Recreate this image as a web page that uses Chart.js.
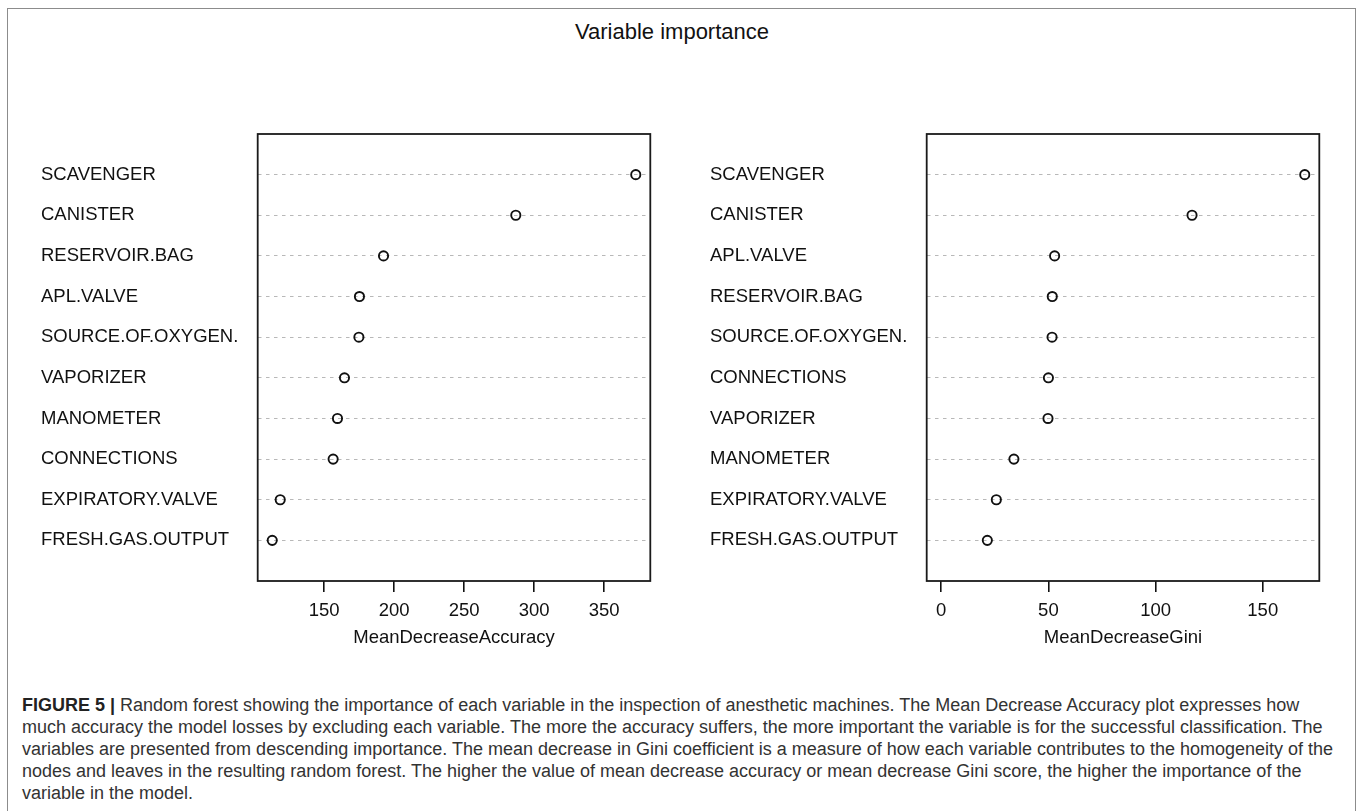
<!DOCTYPE html>
<html>
<head>
<meta charset="utf-8">
<script src="https://cdn.jsdelivr.net/npm/chart.js@4"></script>
<style>
  body { margin: 0; background: #fff; font-family: "Liberation Sans", Arial, sans-serif; }
  #page { position: relative; width: 1360px; height: 811px; overflow: hidden; }
  #frame { position: absolute; left: 7px; top: 8px; width: 1349px; height: 820px;
           border: 1.5px solid #8c8c8c; box-sizing: border-box; }
  #title { position: absolute; left: 472px; width: 400px; top: 19px; text-align: center;
           font-size: 22px; color: #111; }
  canvas { position: absolute; }
  #accChart { left: 31px; top: 100px; }
  #giniChart { left: 700px; top: 100px; }
  #caption { position: absolute; left: 22px; top: 694px; font-size: 18px; line-height: 22px;
             color: #333; white-space: nowrap; }
  #caption b { color: #222; }
</style>
</head>
<body>
<div id="page">
  <div id="frame"></div>
  <div id="title">Variable importance</div>
  <canvas id="accChart" width="640" height="551"></canvas>
  <canvas id="giniChart" width="640" height="551"></canvas>
  <div id="caption">
    <b>FIGURE 5 |</b> Random forest showing the importance of each variable in the inspection of anesthetic machines. The Mean Decrease Accuracy plot expresses how<br>
    much accuracy the model losses by excluding each variable. The more the accuracy suffers, the more important the variable is for the successful classification. The<br>
    variables are presented from descending importance. The mean decrease in Gini coefficient is a measure of how each variable contributes to the homogeneity of the<br>
    nodes and leaves in the resulting random forest. The higher the value of mean decrease accuracy or mean decrease Gini score, the higher the importance of the<br>
    variable in the model.
  </div>
</div>
<script>
// rows top to bottom
var accLabels = ['SCAVENGER', 'CANISTER', 'RESERVOIR.BAG', 'APL.VALVE', 'SOURCE.OF.OXYGEN.',
  'VAPORIZER', 'MANOMETER', 'CONNECTIONS', 'EXPIRATORY.VALVE', 'FRESH.GAS.OUTPUT'];
var accValues = [372.6, 286.9, 192.4, 175.2, 174.8, 164.5, 159.5, 156.4, 118.6, 112.9];
var accTicks = [150, 200, 250, 300, 350];

var giniLabels = ['SCAVENGER', 'CANISTER', 'APL.VALVE', 'RESERVOIR.BAG', 'SOURCE.OF.OXYGEN.',
  'CONNECTIONS', 'VAPORIZER', 'MANOMETER', 'EXPIRATORY.VALVE', 'FRESH.GAS.OUTPUT'];
var giniValues = [169.6, 117.0, 52.9, 51.8, 51.7, 50.0, 49.8, 33.9, 25.7, 21.5];
var giniTicks = [0, 50, 100, 150];

var FONT = {family: '"Liberation Sans", Arial, sans-serif', size: 18.5};
var INK = '#111';

// full box round the plot area, like R's box()
var boxPlugin = {
	id: 'box',
	afterDatasetsDraw: function(chart) {
		var a = chart.chartArea, ctx = chart.ctx;
		ctx.save();
		ctx.strokeStyle = '#1a1a1a';
		ctx.lineWidth = 1.8;
		ctx.strokeRect(a.left, a.top, a.right - a.left, a.bottom - a.top);
		ctx.restore();
	}
};

function makeDotChart(_id, _labels, _values, _ticks, _xmin, _title) {
	var xmax = Math.max.apply(null, _values);
	var pad = (xmax - _xmin) * 0.04;
	var pts = _values.map(function(v, i) { return {x: v, y: i + 1}; });
	var ctx = document.getElementById(_id).getContext('2d');
	return new Chart(ctx, {
		type: 'scatter',
		data: {
			datasets: [{
				data: pts,
				pointStyle: 'circle',
				pointRadius: 4.6,
				borderWidth: 1.9,
				borderColor: INK,
				backgroundColor: 'rgba(0,0,0,0)'
			}]
		},
		plugins: [boxPlugin],
		options: {
			responsive: false,
			animation: false,
			devicePixelRatio: 1,
			layout: {padding: {left: 10, top: 34, right: 20.7, bottom: 0}},
			plugins: {legend: {display: false}, tooltip: {enabled: false}},
			scales: {
				x: {
					type: 'linear',
					min: _xmin - pad,
					max: xmax + pad,
					afterBuildTicks: function(s) { s.ticks = _ticks.map(function(t) { return {value: t}; }); },
					afterFit: function(s) { s.height = 70; },
					grid: {drawOnChartArea: false, drawTicks: true, tickLength: 11, tickColor: INK, lineWidth: 1.6},
					border: {display: false},
					ticks: {font: FONT, color: INK, padding: 8, maxRotation: 0},
					title: {display: true, text: _title, font: FONT, color: INK, padding: {top: 0, bottom: 2}}
				},
				y: {
					type: 'linear',
					reverse: true,
					min: 0,
					max: _labels.length + 1,
					afterBuildTicks: function(s) { s.ticks = _labels.map(function(l, i) { return {value: i + 1}; }); },
					afterFit: function(s) { s.width = 216.7; },
					grid: {color: '#b8b8b8', lineWidth: 1.1, drawTicks: false},
					border: {display: false, dash: [3.5, 4.5]},
					ticks: {
						font: FONT, color: INK, padding: 0, crossAlign: 'far',
						callback: function(v) { return _labels[v - 1]; }
					}
				}
			}
		}
	});
}

makeDotChart('accChart', accLabels, accValues, accTicks, Math.min.apply(null, accValues), 'MeanDecreaseAccuracy');
makeDotChart('giniChart', giniLabels, giniValues, giniTicks, 0, 'MeanDecreaseGini');
</script>
</body>
</html>
